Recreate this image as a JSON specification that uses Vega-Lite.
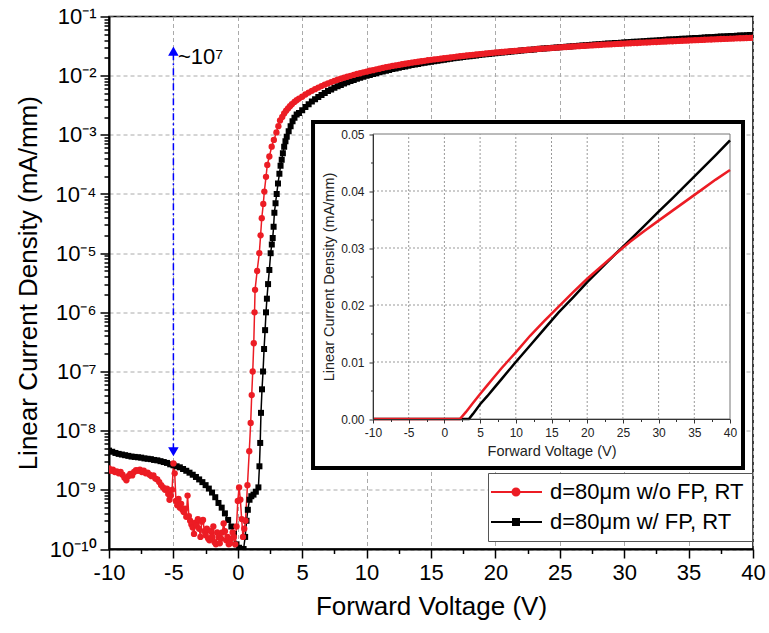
{
"$schema": "https://vega.github.io/schema/vega-lite/v6.json",
"width": 644, "height": 532.5,
"autosize": {"type": "none"},
"padding": {"left": 109, "top": 16.5, "right": 16, "bottom": 84},
"background": "white",
"config": {"view": {"stroke": "black", "strokeWidth": 1.5}, "font": "Liberation Sans"},
"datasets": {
"mainB": [
{"v":-10,"j":4.6e-9},{"v":-9.75,"j":4.4e-9},{"v":-9.5,"j":4.2e-9},{"v":-9.25,"j":4.05e-9},{"v":-9,"j":3.95e-9},{"v":-8.75,"j":3.85e-9},{"v":-8.5,"j":3.75e-9},{"v":-8.25,"j":3.65e-9},{"v":-8,"j":3.6e-9},{"v":-7.75,"j":3.55e-9},{"v":-7.5,"j":3.5e-9},{"v":-7.25,"j":3.4e-9},{"v":-7,"j":3.35e-9},{"v":-6.75,"j":3.3e-9},{"v":-6.5,"j":3.2e-9},{"v":-6.25,"j":3.15e-9},{"v":-6,"j":3.05e-9},{"v":-5.75,"j":2.95e-9},{"v":-5.5,"j":2.85e-9},{"v":-5.25,"j":2.7e-9},{"v":-5,"j":2.6e-9},{"v":-4.75,"j":2.5e-9},{"v":-4.5,"j":2.4e-9},{"v":-4.25,"j":2.25e-9},{"v":-4,"j":2.1e-9},{"v":-3.75,"j":1.95e-9},{"v":-3.5,"j":1.8e-9},{"v":-3.25,"j":1.65e-9},{"v":-3,"j":1.5e-9},{"v":-2.75,"j":1.35e-9},{"v":-2.5,"j":1.2e-9},{"v":-2.25,"j":1.05e-9},{"v":-2,"j":9e-10},{"v":-1.75,"j":7.5e-10},{"v":-1.5,"j":6e-10},{"v":-1.25,"j":5e-10},{"v":-1,"j":4e-10},{"v":-0.75,"j":3.1e-10},{"v":-0.5,"j":2.4e-10},{"v":-0.3,"j":1.8e-10},{"v":-0.1,"j":1.2e-10},{"v":0.1,"j":1.05e-10},{"v":0.3,"j":1.0e-10},{"v":0.45,"j":1.0e-10},{"v":0.57,"j":1.6e-10},{"v":0.68,"j":3e-10},{"v":0.78,"j":4.6e-10},{"v":0.91,"j":6.8e-10},{"v":1.05,"j":7.8e-10},{"v":1.22,"j":8.3e-10},{"v":1.4,"j":9.3e-10},{"v":1.6,"j":1.1e-9},{"v":1.68,"j":2.5e-9},{"v":1.74,"j":6.2e-9},{"v":1.8,"j":2e-8},{"v":1.88,"j":5e-8},{"v":1.96,"j":1e-7},{"v":2.04,"j":2.4e-7},{"v":2.12,"j":5e-7},{"v":2.19,"j":1e-6},{"v":2.26,"j":1.7e-6},{"v":2.35,"j":3e-6},{"v":2.45,"j":5.2e-6},{"v":2.55,"j":1e-5},{"v":2.64,"j":1.4e-5},{"v":2.71,"j":1.8e-5},{"v":2.78,"j":2.8e-5},{"v":2.84,"j":4.8e-5},{"v":2.93,"j":7e-5},{"v":3.02,"j":1e-4},{"v":3.12,"j":1.5e-4},{"v":3.23,"j":2.2e-4},{"v":3.32,"j":3e-4},{"v":3.41,"j":3.8e-4},{"v":3.5,"j":4.9e-4},{"v":3.6,"j":6.3e-4},{"v":3.7,"j":7.8e-4},{"v":3.8,"j":9.3e-4},{"v":3.95,"j":1.15e-3},{"v":4.1,"j":1.4e-3},{"v":4.25,"j":1.7e-3},{"v":4.4,"j":1.95e-3},{"v":4.57,"j":2.2e-3},{"v":4.75,"j":2.35e-3},
{"v":5,"j":0.0026},{"v":5.25,"j":0.00295},{"v":5.5,"j":0.0033},{"v":5.75,"j":0.00365},{"v":6,"j":0.0040},{"v":6.25,"j":0.00437},{"v":6.5,"j":0.00473},{"v":6.75,"j":0.0051},{"v":7,"j":0.00548},{"v":7.25,"j":0.00585},{"v":7.5,"j":0.00622},{"v":7.75,"j":0.0066},{"v":8,"j":0.00697},{"v":8.25,"j":0.00735},{"v":8.5,"j":0.00772},{"v":8.75,"j":0.0081},{"v":9,"j":0.00847},{"v":9.25,"j":0.00884},{"v":9.5,"j":0.0092},{"v":9.75,"j":0.00958},{"v":10,"j":0.00995},{"v":10.25,"j":0.0103},{"v":10.5,"j":0.0107},{"v":10.75,"j":0.0110},{"v":11,"j":0.0114},{"v":11.25,"j":0.0118},{"v":11.5,"j":0.0121},{"v":11.75,"j":0.0125},{"v":12,"j":0.0129},{"v":12.25,"j":0.0132},{"v":12.5,"j":0.0136},{"v":12.75,"j":0.0140},{"v":13,"j":0.0143},{"v":13.25,"j":0.0147},{"v":13.5,"j":0.0151},{"v":13.75,"j":0.0154},{"v":14,"j":0.0158},{"v":14.25,"j":0.0162},{"v":14.5,"j":0.0165},{"v":14.75,"j":0.0169},{"v":15,"j":0.0172},{"v":15.25,"j":0.0176},{"v":15.5,"j":0.0179},{"v":15.75,"j":0.0183},{"v":16,"j":0.0186},{"v":16.25,"j":0.0190},{"v":16.5,"j":0.0193},{"v":16.75,"j":0.0197},{"v":17,"j":0.0200},{"v":17.25,"j":0.0203},{"v":17.5,"j":0.0207},{"v":17.75,"j":0.0210},{"v":18,"j":0.0213},{"v":18.25,"j":0.0217},{"v":18.5,"j":0.0220},{"v":18.75,"j":0.0223},{"v":19,"j":0.0227},{"v":19.25,"j":0.0230},{"v":19.5,"j":0.0233},{"v":19.75,"j":0.0237},{"v":20,"j":0.0240},{"v":20.25,"j":0.0243},{"v":20.5,"j":0.0246},{"v":20.75,"j":0.0249},{"v":21,"j":0.0252},{"v":21.25,"j":0.0256},{"v":21.5,"j":0.0259},{"v":21.75,"j":0.0262},{"v":22,"j":0.0265},{"v":22.25,"j":0.0268},{"v":22.5,"j":0.0271},{"v":22.75,"j":0.0274},{"v":23,"j":0.0277},{"v":23.25,"j":0.0281},{"v":23.5,"j":0.0284},{"v":23.75,"j":0.0287},{"v":24,"j":0.0290},{"v":24.25,"j":0.0293},{"v":24.5,"j":0.0296},{"v":24.75,"j":0.0299},{"v":25,"j":0.0302},{"v":25.25,"j":0.0305},{"v":25.5,"j":0.0308},{"v":25.75,"j":0.0311},{"v":26,"j":0.0314},{"v":26.25,"j":0.0317},{"v":26.5,"j":0.0320},{"v":26.75,"j":0.0324},{"v":27,"j":0.0327},{"v":27.25,"j":0.0330},{"v":27.5,"j":0.0333},{"v":27.75,"j":0.0336},{"v":28,"j":0.0339},{"v":28.25,"j":0.0342},{"v":28.5,"j":0.0345},{"v":28.75,"j":0.0348},{"v":29,"j":0.0351},{"v":29.25,"j":0.0355},{"v":29.5,"j":0.0358},{"v":29.75,"j":0.0361},{"v":30,"j":0.0364},{"v":30.25,"j":0.0367},{"v":30.5,"j":0.0370},{"v":30.75,"j":0.0373},{"v":31,"j":0.0376},{"v":31.25,"j":0.0379},{"v":31.5,"j":0.0382},{"v":31.75,"j":0.0385},{"v":32,"j":0.0388},{"v":32.25,"j":0.0391},{"v":32.5,"j":0.0394},{"v":32.75,"j":0.0398},{"v":33,"j":0.0401},{"v":33.25,"j":0.0404},{"v":33.5,"j":0.0407},{"v":33.75,"j":0.0410},{"v":34,"j":0.0413},{"v":34.25,"j":0.0416},{"v":34.5,"j":0.0419},{"v":34.75,"j":0.0422},{"v":35,"j":0.0425},{"v":35.25,"j":0.0429},{"v":35.5,"j":0.0432},{"v":35.75,"j":0.0435},{"v":36,"j":0.0438},{"v":36.25,"j":0.0441},{"v":36.5,"j":0.0444},{"v":36.75,"j":0.0447},{"v":37,"j":0.0450},{"v":37.25,"j":0.0454},{"v":37.5,"j":0.0457},{"v":37.75,"j":0.0460},{"v":38,"j":0.0463},{"v":38.25,"j":0.0466},{"v":38.5,"j":0.0469},{"v":38.75,"j":0.0473},{"v":39,"j":0.0476},{"v":39.25,"j":0.0479},{"v":39.5,"j":0.0482},{"v":39.75,"j":0.0485},{"v":40,"j":0.0489}
],
"mainR": [
{"v":-10,"j":2.3e-9},{"v":-9.85,"j":2.1e-9},{"v":-9.7,"j":2.2e-9},{"v":-9.55,"j":2.0e-9},{"v":-9.4,"j":2.05e-9},{"v":-9.25,"j":1.9e-9},{"v":-9.1,"j":2.0e-9},{"v":-8.95,"j":1.8e-9},{"v":-8.8,"j":1.6e-9},{"v":-8.65,"j":1.45e-9},{"v":-8.5,"j":1.7e-9},{"v":-8.35,"j":1.85e-9},{"v":-8.2,"j":1.75e-9},{"v":-8.05,"j":2.0e-9},{"v":-7.9,"j":2.15e-9},{"v":-7.75,"j":2.1e-9},{"v":-7.6,"j":2.2e-9},{"v":-7.45,"j":2.0e-9},{"v":-7.3,"j":2.1e-9},{"v":-7.15,"j":1.9e-9},{"v":-7,"j":1.95e-9},{"v":-6.85,"j":1.8e-9},{"v":-6.7,"j":1.7e-9},{"v":-6.55,"j":1.75e-9},{"v":-6.4,"j":1.55e-9},{"v":-6.25,"j":1.5e-9},{"v":-6.1,"j":1.35e-9},{"v":-5.95,"j":1.2e-9},{"v":-5.8,"j":1.1e-9},{"v":-5.65,"j":1.0e-9},{"v":-5.5,"j":1.05e-9},{"v":-5.4,"j":8.5e-10},{"v":-5.3,"j":6.8e-10},{"v":-5.2,"j":8e-10},{"v":-5.1,"j":1.0e-9},{"v":-5,"j":2.8e-9},{"v":-4.9,"j":1.9e-9},{"v":-4.8,"j":6.5e-10},{"v":-4.7,"j":5.5e-10},{"v":-4.6,"j":7e-10},{"v":-4.5,"j":5.0e-10},{"v":-4.4,"j":5.8e-10},{"v":-4.3,"j":4.6e-10},{"v":-4.2,"j":4.2e-10},{"v":-4.1,"j":4.8e-10},{"v":-4,"j":3.5e-10},{"v":-3.9,"j":8e-10},{"v":-3.8,"j":3.6e-10},{"v":-3.7,"j":3.0e-10},{"v":-3.6,"j":2.6e-10},{"v":-3.5,"j":2.3e-10},{"v":-3.4,"j":1.8e-10},{"v":-3.3,"j":2.8e-10},{"v":-3.2,"j":2.5e-10},{"v":-3.1,"j":3.2e-10},{"v":-3,"j":2.2e-10},{"v":-2.9,"j":1.6e-10},{"v":-2.8,"j":2.9e-10},{"v":-2.7,"j":3.1e-10},{"v":-2.6,"j":2.0e-10},{"v":-2.5,"j":1.7e-10},{"v":-2.4,"j":2.2e-10},{"v":-2.3,"j":1.5e-10},{"v":-2.2,"j":1.4e-10},{"v":-2.1,"j":2.0e-10},{"v":-2,"j":1.6e-10},{"v":-1.9,"j":2.4e-10},{"v":-1.8,"j":1.3e-10},{"v":-1.7,"j":1.2e-10},{"v":-1.6,"j":1.9e-10},{"v":-1.5,"j":1.6e-10},{"v":-1.4,"j":1.25e-10},{"v":-1.3,"j":1.5e-10},{"v":-1.2,"j":1.9e-10},{"v":-1.1,"j":2.7e-10},{"v":-1,"j":2.0e-10},{"v":-0.9,"j":1.4e-10},{"v":-0.8,"j":1.6e-10},{"v":-0.7,"j":1.2e-10},{"v":-0.6,"j":1.25e-10},{"v":-0.5,"j":1.5e-10},{"v":-0.4,"j":1.9e-10},{"v":-0.3,"j":1.6e-10},{"v":-0.2,"j":1.2e-10},{"v":-0.1,"j":2.4e-10},{"v":0,"j":6.5e-10},{"v":0.1,"j":1.1e-9},{"v":0.2,"j":6.8e-10},{"v":0.3,"j":3.2e-10},{"v":0.4,"j":1.6e-10},{"v":0.5,"j":2.2e-10},{"v":0.6,"j":3e-10},{"v":0.75,"j":1.2e-9},{"v":0.89,"j":4.5e-9},{"v":1.0,"j":1.35e-8},{"v":1.08,"j":4e-8},{"v":1.16,"j":1e-7},{"v":1.24,"j":3e-7},{"v":1.3,"j":1e-6},{"v":1.34,"j":2.4e-6},{"v":1.5,"j":5e-6},{"v":1.67,"j":1e-5},{"v":1.77,"j":2e-5},{"v":1.86,"j":3.9e-5},{"v":1.98,"j":6.8e-5},{"v":2.06,"j":1.1e-4},{"v":2.19,"j":1.95e-4},{"v":2.29,"j":3.1e-4},{"v":2.45,"j":4.3e-4},{"v":2.63,"j":6.3e-4},{"v":2.8,"j":8.2e-4},{"v":3.0,"j":1.1e-3},{"v":3.15,"j":1.4e-3},{"v":3.28,"j":1.75e-3},{"v":3.45,"j":2.0e-3},{"v":3.6,"j":2.3e-3},{"v":3.75,"j":2.55e-3},{"v":3.9,"j":2.8e-3},{"v":4.05,"j":3.05e-3},{"v":4.2,"j":3.3e-3},{"v":4.4,"j":3.6e-3},{"v":4.57,"j":3.85e-3},{"v":4.75,"j":4.1e-3},
{"v":5,"j":0.0044},{"v":5.25,"j":0.0048},{"v":5.5,"j":0.00518},{"v":5.75,"j":0.00555},{"v":6,"j":0.00592},{"v":6.25,"j":0.0063},{"v":6.5,"j":0.00667},{"v":6.75,"j":0.00705},{"v":7,"j":0.00742},{"v":7.25,"j":0.0078},{"v":7.5,"j":0.00817},{"v":7.75,"j":0.00853},{"v":8,"j":0.0089},{"v":8.25,"j":0.00925},{"v":8.5,"j":0.0096},{"v":8.75,"j":0.00995},{"v":9,"j":0.0103},{"v":9.25,"j":0.0107},{"v":9.5,"j":0.0110},{"v":9.75,"j":0.0114},{"v":10,"j":0.0117},{"v":10.25,"j":0.0121},{"v":10.5,"j":0.0124},{"v":10.75,"j":0.0128},{"v":11,"j":0.0131},{"v":11.25,"j":0.0135},{"v":11.5,"j":0.0139},{"v":11.75,"j":0.0142},{"v":12,"j":0.0146},{"v":12.25,"j":0.0149},{"v":12.5,"j":0.0152},{"v":12.75,"j":0.0156},{"v":13,"j":0.0159},{"v":13.25,"j":0.0162},{"v":13.5,"j":0.0166},{"v":13.75,"j":0.0169},{"v":14,"j":0.0172},{"v":14.25,"j":0.0175},{"v":14.5,"j":0.0178},{"v":14.75,"j":0.0182},{"v":15,"j":0.0185},{"v":15.25,"j":0.0188},{"v":15.5,"j":0.0191},{"v":15.75,"j":0.0194},{"v":16,"j":0.0197},{"v":16.25,"j":0.0200},{"v":16.5,"j":0.0203},{"v":16.75,"j":0.0206},{"v":17,"j":0.0210},{"v":17.25,"j":0.0213},{"v":17.5,"j":0.0216},{"v":17.75,"j":0.0219},{"v":18,"j":0.0222},{"v":18.25,"j":0.0225},{"v":18.5,"j":0.0228},{"v":18.75,"j":0.0231},{"v":19,"j":0.0234},{"v":19.25,"j":0.0237},{"v":19.5,"j":0.0240},{"v":19.75,"j":0.0243},{"v":20,"j":0.0246},{"v":20.25,"j":0.0248},{"v":20.5,"j":0.0251},{"v":20.75,"j":0.0254},{"v":21,"j":0.0257},{"v":21.25,"j":0.0260},{"v":21.5,"j":0.0262},{"v":21.75,"j":0.0265},{"v":22,"j":0.0268},{"v":22.25,"j":0.0271},{"v":22.5,"j":0.0274},{"v":22.75,"j":0.0276},{"v":23,"j":0.0279},{"v":23.25,"j":0.0282},{"v":23.5,"j":0.0285},{"v":23.75,"j":0.0287},{"v":24,"j":0.0290},{"v":24.25,"j":0.0292},{"v":24.5,"j":0.0295},{"v":24.75,"j":0.0297},{"v":25,"j":0.0300},{"v":25.25,"j":0.0303},{"v":25.5,"j":0.0305},{"v":25.75,"j":0.0308},{"v":26,"j":0.0311},{"v":26.25,"j":0.0313},{"v":26.5,"j":0.0315},{"v":26.75,"j":0.0318},{"v":27,"j":0.0320},{"v":27.25,"j":0.0323},{"v":27.5,"j":0.0325},{"v":27.75,"j":0.0328},{"v":28,"j":0.0330},{"v":28.25,"j":0.0333},{"v":28.5,"j":0.0335},{"v":28.75,"j":0.0337},{"v":29,"j":0.0339},{"v":29.25,"j":0.0342},{"v":29.5,"j":0.0344},{"v":29.75,"j":0.0346},{"v":30,"j":0.0348},{"v":30.25,"j":0.0351},{"v":30.5,"j":0.0353},{"v":30.75,"j":0.0355},{"v":31,"j":0.0357},{"v":31.25,"j":0.0360},{"v":31.5,"j":0.0362},{"v":31.75,"j":0.0364},{"v":32,"j":0.0366},{"v":32.25,"j":0.0369},{"v":32.5,"j":0.0371},{"v":32.75,"j":0.0373},{"v":33,"j":0.0375},{"v":33.25,"j":0.0378},{"v":33.5,"j":0.0380},{"v":33.75,"j":0.0382},{"v":34,"j":0.0384},{"v":34.25,"j":0.0387},{"v":34.5,"j":0.0389},{"v":34.75,"j":0.0391},{"v":35,"j":0.0393},{"v":35.25,"j":0.0396},{"v":35.5,"j":0.0398},{"v":35.75,"j":0.0400},{"v":36,"j":0.0402},{"v":36.25,"j":0.0405},{"v":36.5,"j":0.0407},{"v":36.75,"j":0.0409},{"v":37,"j":0.0411},{"v":37.25,"j":0.0414},{"v":37.5,"j":0.0416},{"v":37.75,"j":0.0418},{"v":38,"j":0.0420},{"v":38.25,"j":0.0422},{"v":38.5,"j":0.0424},{"v":38.75,"j":0.0427},{"v":39,"j":0.0429},{"v":39.25,"j":0.0431},{"v":39.5,"j":0.0433},{"v":39.75,"j":0.0435},{"v":40,"j":0.0437}
],
"insetB": [
{"v":-10,"j":0},{"v":3.43,"j":0},{"v":4,"j":0.0009},{"v":5,"j":0.0026},{"v":6,"j":0.0040},{"v":7,"j":0.0055},{"v":8,"j":0.0070},{"v":9,"j":0.0085},{"v":10,"j":0.0100},{"v":12,"j":0.0129},{"v":14,"j":0.0158},{"v":16,"j":0.0187},{"v":18,"j":0.0213},{"v":20,"j":0.0240},{"v":22,"j":0.0265},{"v":24,"j":0.0290},{"v":26,"j":0.0314},{"v":28,"j":0.0339},{"v":30,"j":0.0364},{"v":32,"j":0.0388},{"v":34,"j":0.0413},{"v":36,"j":0.0438},{"v":38,"j":0.0463},{"v":40,"j":0.0489}
],
"insetR": [
{"v":-10,"j":0},{"v":2.17,"j":0},{"v":3,"j":0.0012},{"v":4,"j":0.0028},{"v":5,"j":0.0044},{"v":6,"j":0.0059},{"v":7,"j":0.0074},{"v":8,"j":0.0089},{"v":9,"j":0.0103},{"v":10,"j":0.0117},{"v":12,"j":0.0146},{"v":14,"j":0.0172},{"v":16,"j":0.0197},{"v":18,"j":0.0222},{"v":20,"j":0.0246},{"v":22,"j":0.0268},{"v":24,"j":0.0290},{"v":26,"j":0.0311},{"v":28,"j":0.0330},{"v":30,"j":0.0348},{"v":32,"j":0.0366},{"v":34,"j":0.0384},{"v":36,"j":0.0402},{"v":38,"j":0.0420},{"v":40,"j":0.0437}
],
"arrow": [{"v": -5, "j": 0.024, "j2": 5e-9}],
"heads": [{"v": -5, "j": 0.026, "end": "top"}, {"v": -5, "j": 4.4e-9, "end": "bottom"}],
"note": [{"v": -4.65, "j": 0.0207, "label": "~10⁷"}],
"frame": [{"v": -18.4, "v2": 41.82, "j": 0.052105, "j2": -0.008596}],
"plotbox": [{"v": -10, "v2": 40, "j": 0, "j2": 0.05}],
"igridx": [{"v": -5, "j": 0, "j2": 0.05}, {"v": 0, "j": 0, "j2": 0.05}, {"v": 5, "j": 0, "j2": 0.05}, {"v": 10, "j": 0, "j2": 0.05}, {"v": 15, "j": 0, "j2": 0.05}, {"v": 20, "j": 0, "j2": 0.05}, {"v": 25, "j": 0, "j2": 0.05}, {"v": 30, "j": 0, "j2": 0.05}, {"v": 35, "j": 0, "j2": 0.05}],
"igridy": [{"v": -10, "v2": 40, "j": 0.01}, {"v": -10, "v2": 40, "j": 0.02}, {"v": -10, "v2": 40, "j": 0.03}, {"v": -10, "v2": 40, "j": 0.04}]
},
"layer": [
{
"encoding": {
 "x": {"field": "v", "type": "quantitative",
  "scale": {"domain": [-10, 40], "nice": false, "zero": false},
  "axis": {"orient": "bottom", "values": [-10,-7.5,-5,-2.5,0,2.5,5,7.5,10,12.5,15,17.5,20,22.5,25,27.5,30,32.5,35,37.5,40],
   "labelExpr": "datum.value % 5 == 0 ? '' + datum.value : ''",
   "tickSize": {"condition": {"test": "datum.value % 5 == 0", "value": 9}, "value": 4.5},
   "tickColor": "black", "tickWidth": 1.5, "domainColor": "black", "domainWidth": 2,
   "grid": true, "gridColor": "#aaaaaa", "gridDash": [4, 3], "gridWidth": 1,
   "gridOpacity": {"condition": {"test": "datum.value % 5 == 0", "value": 1}, "value": 0},
   "labelFont": "Liberation Sans", "labelFontSize": 22, "labelColor": "black", "labelPadding": 4,
   "labelOverlap": false, "labelFlush": false, "labelBound": false,
   "title": "Forward Voltage (V)", "titleFont": "Liberation Sans", "titleFontSize": 26, "titleFontWeight": "normal", "titleColor": "black", "titlePadding": 10}},
 "y": {"field": "j", "type": "quantitative",
  "scale": {"type": "log", "domain": [1e-10, 0.1], "nice": false},
  "axis": {"orient": "left", "values": [1e-10,2e-10,3e-10,4e-10,5e-10,6e-10,7e-10,8e-10,9e-10,1e-9,2e-9,3e-9,4e-9,5e-9,6e-9,7e-9,8e-9,9e-9,1e-8,2e-8,3e-8,4e-8,5e-8,6e-8,7e-8,8e-8,9e-8,1e-7,2e-7,3e-7,4e-7,5e-7,6e-7,7e-7,8e-7,9e-7,1e-6,2e-6,3e-6,4e-6,5e-6,6e-6,7e-6,8e-6,9e-6,1e-5,2e-5,3e-5,4e-5,5e-5,6e-5,7e-5,8e-5,9e-5,1e-4,2e-4,3e-4,4e-4,5e-4,6e-4,7e-4,8e-4,9e-4,1e-3,2e-3,3e-3,4e-3,5e-3,6e-3,7e-3,8e-3,9e-3,1e-2,2e-2,3e-2,4e-2,5e-2,6e-2,7e-2,8e-2,9e-2,0.1],
   "labelExpr": "abs(log(datum.value)/LN10 - round(log(datum.value)/LN10)) < 0.001 ? '10' + ['⁰','⁻¹','⁻²','⁻³','⁻⁴','⁻⁵','⁻⁶','⁻⁷','⁻⁸','⁻⁹','⁻¹⁰'][-round(log(datum.value)/LN10)] : ''",
   "tickSize": {"condition": {"test": "abs(log(datum.value)/LN10 - round(log(datum.value)/LN10)) < 0.001", "value": 9}, "value": 5},
   "tickColor": "black", "tickWidth": 1.5, "domainColor": "black", "domainWidth": 2,
   "grid": true, "gridColor": "#aaaaaa", "gridDash": [4, 3], "gridWidth": 1,
   "gridOpacity": {"condition": {"test": "abs(log(datum.value)/LN10 - round(log(datum.value)/LN10)) < 0.001", "value": 1}, "value": 0},
   "labelFont": "Liberation Sans", "labelFontSize": 22, "labelColor": "black", "labelPadding": 4,
   "labelOverlap": false, "labelFlush": false, "labelBound": false,
   "title": "Linear Current Density (mA/mm)", "titleFont": "Liberation Sans", "titleFontSize": 26, "titleFontWeight": "normal", "titleColor": "black", "titlePadding": 8}}
},
"layer": [
 {"data": {"name": "mainB"}, "mark": {"type": "line", "color": "black", "strokeWidth": 1.5, "clip": true}},
 {"data": {"name": "mainR"}, "mark": {"type": "line", "color": "#ec1c24", "strokeWidth": 1.5, "clip": true}},
 {"data": {"name": "mainB"}, "mark": {"type": "point", "shape": "square", "filled": true, "opacity": 1, "size": 36, "clip": true},
  "encoding": {"color": {"datum": "d=80μm w/ FP, RT"}}},
 {"data": {"name": "mainR"}, "mark": {"type": "point", "shape": "circle", "filled": true, "opacity": 1, "size": 40, "clip": true},
  "encoding": {"color": {"datum": "d=80μm w/o FP, RT",
    "scale": {"domain": ["d=80μm w/o FP, RT", "d=80μm w/ FP, RT"], "range": ["#ec1c24", "black"]},
    "legend": {"title": null, "orient": "none", "legendX": 379, "legendY": 456.5, "direction": "vertical",
     "padding": 8, "strokeColor": "#555555", "fillColor": "white", "zindex": 1,
     "labelFont": "Liberation Sans", "labelFontSize": 22, "labelColor": "black", "labelOffset": 32, "labelLimit": 400,
     "rowPadding": 8, "symbolSize": 400, "symbolStrokeWidth": 2,
     "encoding": {"symbols": {
       "shape": {"condition": {"test": "datum.value == 'd=80μm w/o FP, RT'", "value": "M-1.6,0H3.5M0.55,0A0.35,0.35 0 1,0 1.25,0A0.35,0.35 0 1,0 0.55,0Z"}, "value": "M-1.6,0H3.5M0.6,-0.3H1.2V0.3H0.6Z"},
       "stroke": {"condition": {"test": "datum.value == 'd=80μm w/o FP, RT'", "value": "#ec1c24"}, "value": "black"},
       "fill": {"condition": {"test": "datum.value == 'd=80μm w/o FP, RT'", "value": "#ec1c24"}, "value": "black"},
       "strokeWidth": {"value": 2}, "opacity": {"value": 1}}}}}}},
 {"data": {"name": "arrow"}, "mark": {"type": "rule", "color": "#0000ff", "strokeWidth": 1.5, "strokeDash": [7, 3, 2, 3]}, "encoding": {"y2": {"field": "j2"}}},
 {"data": {"name": "heads"}, "transform": [{"filter": "datum.end == 'top'"}], "mark": {"type": "point", "shape": "triangle-up", "filled": true, "color": "#0000ff", "opacity": 1, "size": 110}},
 {"data": {"name": "heads"}, "transform": [{"filter": "datum.end == 'bottom'"}], "mark": {"type": "point", "shape": "triangle-down", "filled": true, "color": "#0000ff", "opacity": 1, "size": 110}},
 {"data": {"name": "note"}, "mark": {"type": "text", "align": "left", "baseline": "middle", "font": "Liberation Sans", "fontSize": 22, "color": "black"}, "encoding": {"text": {"field": "label"}}}
]
},
{
"encoding": {
 "x": {"field": "v", "type": "quantitative",
  "scale": {"domain": [-10, 40], "range": [264, 621], "nice": false, "zero": false},
  "axis": {"orient": "bottom", "offset": -130, "zindex": 1,
   "values": [-10,-7.5,-5,-2.5,0,2.5,5,7.5,10,12.5,15,17.5,20,22.5,25,27.5,30,32.5,35,37.5,40],
   "labelExpr": "datum.value % 5 == 0 ? '' + datum.value : ''",
   "tickSize": {"condition": {"test": "datum.value % 5 == 0", "value": 4}, "value": 2.5},
   "tickColor": "#333333", "domainColor": "#333333", "domainWidth": 1, "grid": false,
   "labelFont": "Liberation Sans", "labelFontSize": 12, "labelColor": "#222222", "labelPadding": 4,
   "labelOverlap": false, "labelFlush": false, "labelBound": false,
   "title": "Forward Voltage (V)", "titleFont": "Liberation Sans", "titleFontSize": 14.5, "titleFontWeight": "normal", "titleColor": "#222222", "titlePadding": 6}},
 "y": {"field": "j", "type": "quantitative",
  "scale": {"domain": [0, 0.05], "range": [402.5, 117.5], "nice": false, "zero": false},
  "axis": {"orient": "left", "offset": -264, "zindex": 1,
   "values": [0,0.005,0.01,0.015,0.02,0.025,0.03,0.035,0.04,0.045,0.05],
   "labelExpr": "abs(datum.value*100 - round(datum.value*100)) < 0.001 ? format(datum.value, '.2f') : ''",
   "tickSize": {"condition": {"test": "abs(datum.value*100 - round(datum.value*100)) < 0.001", "value": 4}, "value": 2.5},
   "tickColor": "#333333", "domainColor": "#333333", "domainWidth": 1, "grid": false,
   "labelFont": "Liberation Sans", "labelFontSize": 12, "labelColor": "#222222", "labelPadding": 5,
   "labelOverlap": false, "labelFlush": false, "labelBound": false,
   "title": "Linear Current Density (mA/mm)", "titleFont": "Liberation Sans", "titleFontSize": 14.5, "titleFontWeight": "normal", "titleColor": "#222222", "titlePadding": 4}}
},
"layer": [
 {"data": {"name": "frame"}, "mark": {"type": "rect", "fill": "white", "stroke": "black", "strokeWidth": 4}, "encoding": {"x2": {"field": "v2"}, "y2": {"field": "j2"}}},
 {"data": {"name": "plotbox"}, "mark": {"type": "rect", "fillOpacity": 0, "stroke": "#777777", "strokeWidth": 1}, "encoding": {"x2": {"field": "v2"}, "y2": {"field": "j2"}}},
 {"data": {"name": "igridx"}, "mark": {"type": "rule", "color": "#999999", "strokeWidth": 1, "strokeDash": [2, 2]}, "encoding": {"y2": {"field": "j2"}}},
 {"data": {"name": "igridy"}, "mark": {"type": "rule", "color": "#999999", "strokeWidth": 1, "strokeDash": [2, 2]}, "encoding": {"x2": {"field": "v2"}}},
 {"data": {"name": "insetB"}, "mark": {"type": "line", "color": "black", "strokeWidth": 2.5}},
 {"data": {"name": "insetR"}, "mark": {"type": "line", "color": "#ec1c24", "strokeWidth": 2.5}}
]
}
],
"resolve": {"scale": {"x": "independent", "y": "independent"}, "axis": {"x": "independent", "y": "independent"}}
}
